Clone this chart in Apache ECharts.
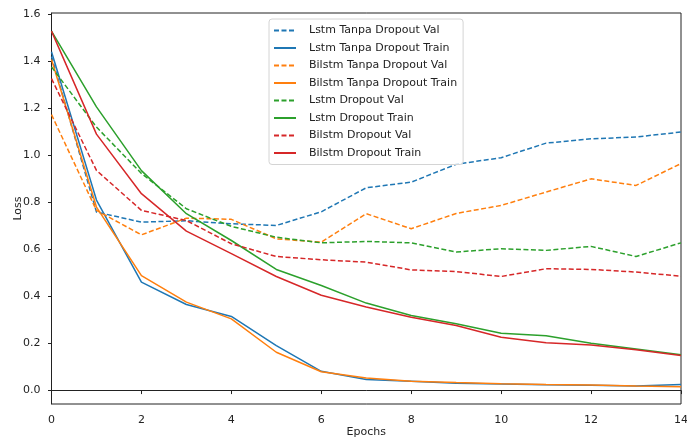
<!DOCTYPE html>
<html>
<head>
<meta charset="utf-8">
<script src="https://cdn.jsdelivr.net/npm/echarts@6/dist/echarts.min.js"></script>
<style>
  html, body { margin: 0; padding: 0; background: #fff; }
  #chart { width: 687px; height: 440px; }
</style>
</head>
<body>
<div id="chart"></div>
<script>
// epochs 0..14
var epochs = [0, 1, 2, 3, 4, 5, 6, 7, 8, 9, 10, 11, 12, 13, 14]
var yTicks = [0, 0.2, 0.4, 0.6, 0.8, 1.0, 1.2, 1.4, 1.6]

var lstmTanpaVal = [1.42, 0.759, 0.716, 0.722, 0.709, 0.702, 0.76, 0.862, 0.886, 0.962, 0.99, 1.052, 1.07, 1.078, 1.099]
var lstmTanpaTrain = [1.44, 0.81, 0.461, 0.366, 0.315, 0.191, 0.082, 0.047, 0.040, 0.031, 0.028, 0.025, 0.023, 0.020, 0.026]
var bilstmTanpaVal = [1.173, 0.766, 0.662, 0.733, 0.728, 0.645, 0.631, 0.752, 0.688, 0.753, 0.787, 0.844, 0.90, 0.872, 0.965]
var bilstmTanpaTrain = [1.407, 0.78, 0.489, 0.376, 0.305, 0.163, 0.080, 0.054, 0.040, 0.034, 0.029, 0.026, 0.024, 0.019, 0.016]
var lstmDropoutVal = [1.376, 1.12, 0.923, 0.773, 0.698, 0.652, 0.628, 0.634, 0.628, 0.589, 0.603, 0.596, 0.613, 0.570, 0.628]
var lstmDropoutTrain = [1.528, 1.206, 0.935, 0.752, 0.638, 0.515, 0.447, 0.372, 0.319, 0.284, 0.244, 0.233, 0.201, 0.177, 0.152]
var bilstmDropoutVal = [1.326, 0.936, 0.766, 0.723, 0.624, 0.570, 0.556, 0.546, 0.513, 0.506, 0.485, 0.518, 0.515, 0.504, 0.486]
var bilstmDropoutTrain = [1.528, 1.09, 0.837, 0.678, 0.582, 0.485, 0.405, 0.355, 0.312, 0.277, 0.227, 0.203, 0.194, 0.174, 0.149]

var font = 'DejaVu Sans'

function pairs(vals) {
  return epochs.map(function (e, i) { return [e, vals[i]] })
}

function line(name, vals, color, dashed) {
  return {
    name: name,
    type: 'line',
    data: pairs(vals),
    symbol: 'none',
    lineStyle: {
      color: color,
      width: 1.5,
      type: dashed ? [5, 2.5] : 'solid'
    },
    itemStyle: { color: color }
  }
}

var chart = echarts.init(document.getElementById('chart'))
chart.setOption({
  animation: false,
  backgroundColor: '#fff',
  grid: {
    left: 51.5,
    right: 6,
    top: 13,
    bottom: 36,
    outerBoundsMode: 'none',
    containLabel: false,
    show: true,
    borderColor: '#222',
    borderWidth: 1
  },
  legend: {
    orient: 'vertical',
    left: 269,
    top: 19,
    itemWidth: 22,
    itemHeight: 11,
    itemGap: 6.5,
    padding: [6, 6, 6, 4],
    borderColor: '#d4d4d4',
    borderWidth: 1,
    borderRadius: 3,
    backgroundColor: 'rgba(255,255,255,0.8)',
    itemStyle: { opacity: 0 }, // hide the marker, keep the line
    textStyle: {
      fontFamily: font,
      fontSize: 11,
      lineHeight: 11,
      color: '#222',
      padding: [0, 0, 0, 8]
    }
  },
  xAxis: {
    type: 'value',
    min: 0,
    max: 14,
    interval: 2,
    name: 'Epochs',
    nameLocation: 'middle',
    nameGap: 23,
    nameMoveOverlap: false,
    nameTextStyle: { fontFamily: font, fontSize: 11, color: '#222' },
    axisLine: { show: true, lineStyle: { color: '#222' } },
    axisTick: { show: true, inside: false, length: 3.5, lineStyle: { color: '#222' } },
    axisLabel: { fontFamily: font, fontSize: 11, color: '#222', margin: 11 },
    splitLine: { show: false }
  },
  yAxis: {
    type: 'value',
    min: -0.057,
    max: 1.605,
    name: 'Loss',
    nameLocation: 'middle',
    nameGap: 28,
    nameMoveOverlap: false,
    nameRotate: 90,
    nameTextStyle: { fontFamily: font, fontSize: 11, color: '#222' },
    axisLine: { show: true, lineStyle: { color: '#222' } },
    axisTick: { show: true, inside: false, length: 3.5, customValues: yTicks, lineStyle: { color: '#222' } },
    axisLabel: {
      fontFamily: font,
      fontSize: 11,
      color: '#222',
      margin: 11,
      customValues: yTicks,
      formatter: function (v) { return v.toFixed(1) }
    },
    splitLine: { show: false }
  },
  series: [
    line('Lstm Tanpa Dropout Val', lstmTanpaVal, '#1f77b4', true),
    line('Lstm Tanpa Dropout Train', lstmTanpaTrain, '#1f77b4', false),
    line('Bilstm Tanpa Dropout Val', bilstmTanpaVal, '#ff7f0e', true),
    line('Bilstm Tanpa Dropout Train', bilstmTanpaTrain, '#ff7f0e', false),
    line('Lstm Dropout Val', lstmDropoutVal, '#2ca02c', true),
    line('Lstm Dropout Train', lstmDropoutTrain, '#2ca02c', false),
    line('Bilstm Dropout Val', bilstmDropoutVal, '#d62728', true),
    line('Bilstm Dropout Train', bilstmDropoutTrain, '#d62728', false)
  ]
})
</script>
</body>
</html>
